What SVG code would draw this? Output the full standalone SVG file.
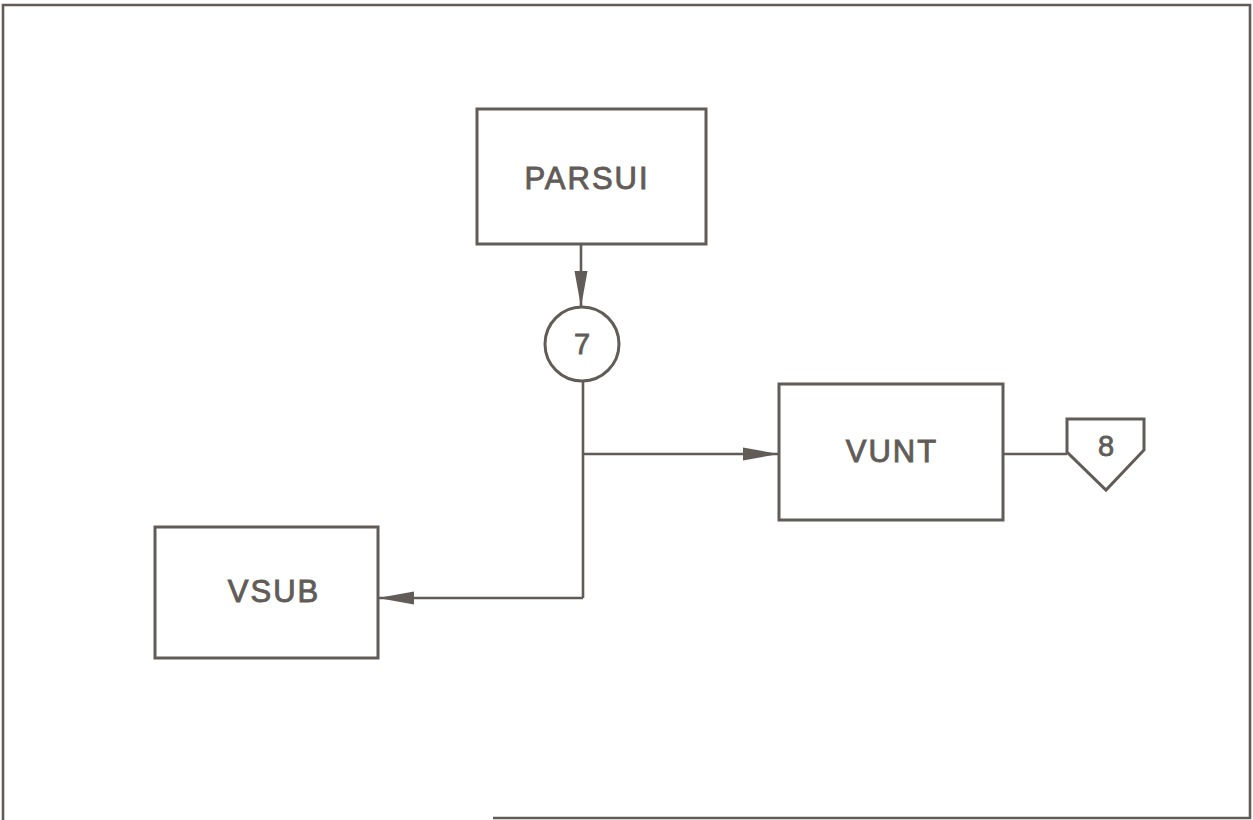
<svg xmlns="http://www.w3.org/2000/svg" width="1253" height="820" viewBox="0 0 1253 820">
<style>
.box{fill:none;stroke:#615c58;stroke-width:3}
.ln{fill:none;stroke:#615c58;stroke-width:2.6}
.lbl{font-family:"Liberation Sans",Arial,sans-serif;font-size:31px;fill:#615c58;stroke:#615c58;stroke-width:0.9;text-anchor:middle;letter-spacing:2px}
.num{font-family:"Liberation Sans",Arial,sans-serif;font-size:29px;fill:#615c58;stroke:#615c58;stroke-width:0.8;text-anchor:middle}
</style>
<defs>
<marker id="arr" viewBox="0 0 36 14" refX="36" refY="7" markerWidth="36" markerHeight="14" markerUnits="userSpaceOnUse" orient="auto">
<path d="M0,0.5 L36,7 L0,13.5 Z" fill="#615c58"/>
</marker>
</defs>
<rect width="1253" height="820" fill="#ffffff"/>
<path class="ln" d="M493 818 H1250 V5 H3 V820" stroke-width="2.2"/>
<g id="connectors">
<line class="ln" x1="581" y1="244" x2="581" y2="307" marker-end="url(#arr)"/>
<line class="ln" x1="583" y1="381" x2="583" y2="598"/>
<line class="ln" x1="583" y1="454" x2="779" y2="454" marker-end="url(#arr)"/>
<polyline class="ln" points="583,598 378,598" marker-end="url(#arr)"/>
<line class="ln" x1="1003" y1="454" x2="1067" y2="454"/>
</g>
<g id="parsui">
<rect class="box" x="477" y="109" width="229" height="135"/>
<text class="lbl" x="587" y="189">PARSUI</text>
</g>
<g id="c7">
<circle class="box" cx="582" cy="344" r="37" stroke-width="2.6"/>
<text class="num" x="582" y="354">7</text>
</g>
<g id="vunt">
<rect class="box" x="779" y="384" width="224" height="136"/>
<text class="lbl" x="892" y="462">VUNT</text>
</g>
<g id="p8">
<path class="box" stroke-width="2.6" d="M1067 419 H1144 V450 L1106 490 L1067 452 Z"/>
<text class="num" x="1106" y="456">8</text>
</g>
<g id="vsub">
<rect class="box" x="155" y="527" width="223" height="131"/>
<text class="lbl" x="274" y="602">VSUB</text>
</g>
</svg>
